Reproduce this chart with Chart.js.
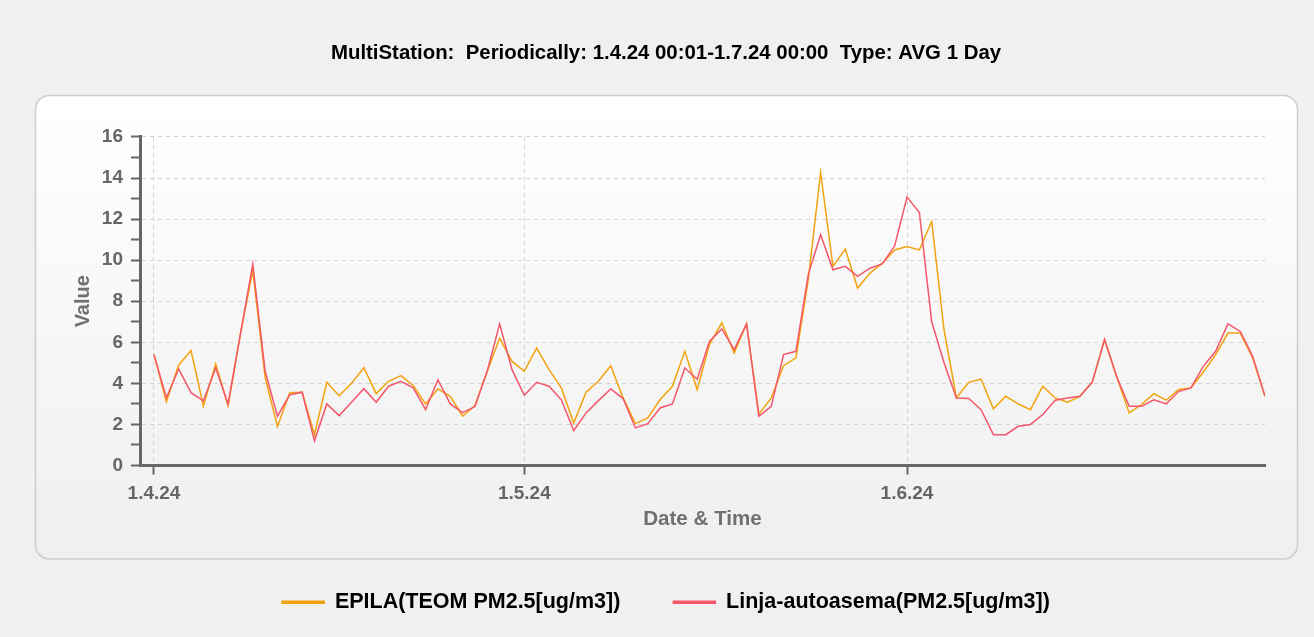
<!DOCTYPE html>
<html>
<head>
<meta charset="utf-8">
<script src="https://cdn.jsdelivr.net/npm/chart.js@4.4.1/dist/chart.umd.min.js"></script>
<style>
  html, body { margin: 0; padding: 0; background: #f0f0f0; overflow: hidden; }
  canvas { display: block; }
</style>
</head>
<body>
<canvas id="multiChart" width="1314" height="623"></canvas>
<script>
const titleText = 'MultiStation:  Periodically: 1.4.24 00:01-1.7.24 00:00  Type: AVG 1 Day';
const seriesNames = ['EPILA(TEOM PM2.5[ug/m3])', 'Linja-autoasema(PM2.5[ug/m3])'];

// day index 0 = 1.4.24 ... 90 = 30.6.24
const tickDays = [0, 30, 61];
const tickLabels = ['1.4.24', '1.5.24', '1.6.24'];

const epila = [
  5.4, 3.1, 4.9, 5.6, 2.9, 4.95, 2.9, 6.4, 9.5, 4.3,
  1.9, 3.55, 3.57, 1.5, 4.05, 3.4, 4.0, 4.76, 3.5, 4.1,
  4.38, 3.9, 3.0, 3.73, 3.37, 2.4, 2.92, 4.6, 6.2, 5.07,
  4.6, 5.72, 4.67, 3.78, 2.07, 3.57, 4.1, 4.86, 3.29, 2.04,
  2.32, 3.21, 3.86, 5.56, 3.7, 5.9, 6.95, 5.48, 6.9, 2.5,
  3.29, 4.86, 5.24, 9.05, 14.27, 9.7, 10.54, 8.64, 9.37, 9.85,
  10.5, 10.67, 10.5, 11.88, 6.6, 3.29, 4.05, 4.21, 2.76, 3.37,
  3.0, 2.72, 3.86, 3.29, 3.08, 3.37, 4.05, 6.13, 4.3, 2.56,
  2.97, 3.5, 3.18, 3.7, 3.78, 4.54, 5.4, 6.45, 6.45, 5.24,
  3.37
];
const linja = [
  5.4, 3.3, 4.7, 3.55, 3.15, 4.75, 3.0, 6.4, 9.8, 4.6,
  2.4, 3.45, 3.57, 1.2, 3.0, 2.43, 3.08, 3.74, 3.08, 3.86,
  4.1, 3.78, 2.72, 4.18, 3.0, 2.57, 2.87, 4.6, 6.9, 4.67,
  3.42, 4.05, 3.86, 3.2, 1.7, 2.56, 3.16, 3.73, 3.26, 1.83,
  2.04, 2.8, 3.0, 4.75, 4.2, 6.05, 6.65, 5.64, 6.9, 2.4,
  2.88, 5.4, 5.56, 9.3, 11.24, 9.53, 9.7, 9.21, 9.61, 9.82,
  10.7, 13.07, 12.32, 7.0, 5.0, 3.29, 3.26, 2.72, 1.5, 1.5,
  1.91, 2.0, 2.48, 3.18, 3.29, 3.37, 4.05, 6.13, 4.3, 2.88,
  2.88, 3.2, 3.0, 3.6, 3.78, 4.83, 5.56, 6.9, 6.53, 5.32,
  3.37
];

const FONT = 'Liberation Sans, Arial, sans-serif';

// カード背景
const cardBackground = {
  id: 'cardBackground',
  beforeDraw(chart) {
    const { ctx, chartArea: a } = chart;
    ctx.save();
    ctx.fillStyle = '#f0f0f0';
    ctx.fillRect(0, 0, chart.width, chart.height);
    const x = a.left - 105, y = a.top - 42;
    const w = a.right + 32 - x, h = a.bottom + 93 - y;
    const g = ctx.createLinearGradient(0, y, 0, y + h);
    g.addColorStop(0, '#ffffff');
    g.addColorStop(1, '#efefef');
    ctx.beginPath();
    ctx.roundRect(x + 0.5, y + 0.5, w, h, 14);
    ctx.fillStyle = g;
    ctx.fill();
    ctx.strokeStyle = '#cdcdcd';
    ctx.lineWidth = 1.5;
    ctx.stroke();
    ctx.restore();
  }
};

new Chart(document.getElementById('multiChart'), {
  type: 'line',
  data: {
    datasets: [
      {
        label: seriesNames[0],
        data: epila.map((v, i) => ({ x: i, y: v })),
        borderColor: '#f2a20c',
        backgroundColor: '#f2a20c',
        borderWidth: 1.5,
        pointRadius: 0,
        tension: 0,
        order: 1
      },
      {
        label: seriesNames[1],
        data: linja.map((v, i) => ({ x: i, y: v })),
        borderColor: '#f4566a',
        backgroundColor: '#f4566a',
        borderWidth: 1.5,
        pointRadius: 0,
        tension: 0,
        order: 0
      }
    ]
  },
  options: {
    responsive: false,
    animation: false,
    layout: { padding: { left: 67, right: 49, top: 0, bottom: 0 } },
    plugins: {
      tooltip: { enabled: false },
      title: {
        display: true,
        text: titleText,
        color: '#000',
        font: { family: FONT, size: 20.4, weight: 'bold', lineHeight: 1.2 },
        padding: { top: 41, bottom: 71.5 }
      },
      legend: {
        position: 'bottom',
        labels: {
          color: '#000',
          font: { family: FONT, size: 21.5, weight: 'bold' },
          boxWidth: 42,
          boxHeight: 2,
          padding: 53,
          sort: (a, b) => a.datasetIndex - b.datasetIndex
        }
      }
    },
    scales: {
      x: {
        type: 'linear',
        min: -1.134,
        max: 90,
        afterFit: s => { s.height = 73; },
        afterBuildTicks: s => { s.ticks = tickDays.map(v => ({ value: v })); },
        ticks: {
          autoSkip: false,
          maxRotation: 0,
          padding: 8,
          color: '#666',
          font: { family: FONT, size: 19, weight: 'bold' },
          callback: v => tickLabels[tickDays.indexOf(v)]
        },
        grid: { color: '#d2d2d2', tickColor: '#666', tickWidth: 2, tickLength: 9 },
        border: { color: '#666', width: 3, dash: [4, 4] },
        title: {
          display: true,
          text: 'Date & Time',
          color: '#707070',
          font: { family: FONT, size: 20.6, weight: 'bold', lineHeight: 1.2 },
          padding: { top: 0, bottom: 7 }
        }
      },
      y: {
        min: 0,
        max: 16,
        afterFit: s => { s.width = 73; },
        ticks: {
          stepSize: 1,
          autoSkip: false,
          padding: 8,
          color: '#666',
          font: { family: FONT, size: 19, weight: 'bold' },
          callback: v => (v % 2 === 0 ? v : '')
        },
        grid: {
          color: c => (c.tick && c.tick.value % 2 === 0 ? '#d2d2d2' : 'rgba(0,0,0,0)'),
          tickColor: '#666',
          tickWidth: 2,
          tickLength: 9
        },
        border: { color: '#666', width: 3, dash: [4, 4] },
        title: {
          display: true,
          text: 'Value',
          color: '#707070',
          font: { family: FONT, size: 20, weight: 'bold', lineHeight: 1.2 },
          padding: { top: 4, bottom: 0 }
        }
      }
    }
  },
  plugins: [cardBackground]
});
</script>
</body>
</html>
